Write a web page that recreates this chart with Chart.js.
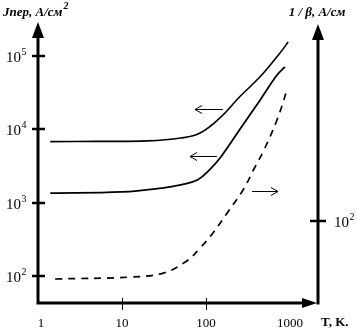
<!DOCTYPE html>
<html>
<head>
<meta charset="utf-8">
<script src="https://cdn.jsdelivr.net/npm/chart.js@4/dist/chart.umd.min.js"></script>
<style>
  html, body { margin: 0; padding: 0; background: #fff; }
  #wrap { width: 357px; height: 333px; }
</style>
</head>
<body>
<div id="wrap"><canvas id="chart" width="357" height="333"></canvas></div>
<script>
// верхняя сплошная кривая (левая ось)
const upperT = [1.4, 5, 20, 50, 85, 150, 250, 440, 760, 950];
const upperJ = [6800, 6850, 6950, 7600, 8900, 14700, 27600, 52000, 110000, 155000];

// нижняя сплошная кривая (левая ось)
const lowerT = [1.4, 10, 30, 50, 80, 110, 150, 250, 440, 700, 870];
const lowerJ = [1350, 1400, 1580, 1750, 2050, 2800, 4200, 9800, 25000, 55000, 71000];

// пунктир (правая ось 1/β)
const dashT = [1.6, 12.5, 31, 59, 85, 121, 178, 276, 383, 477, 700, 920];
const dashB = [16.2, 17.2, 19.5, 28.5, 42.8, 68.6, 128, 265, 545, 873, 2385, 6100];

// подписи осей
const xTicks = [1, 10, 100, 1000];
const xTickMarks = [10, 100];
const leftTickExp = [2, 3, 4, 5];
const rightTickExp = [2];

// стрелки-указатели: [T1, T2, значение, ось]
const pointers = [
    [159, 74, 18900, 'y'],
    [135, 64.5, 4330, 'y'],
    [353, 720, 256, 'y2']
];

function toXY(xs, ys) {
    return xs.map((x, i) => ({ x: x, y: ys[i] }));
}

function drawPower(ctx, x, y, exp, align) {
    ctx.save();
    ctx.fillStyle = '#000';
    ctx.textBaseline = 'middle';
    ctx.font = '15px "Liberation Serif"';
    const w = ctx.measureText('10').width;
    ctx.font = '10px "Liberation Serif"';
    const we = ctx.measureText(String(exp)).width;
    let x0 = align === 'right' ? x - w - we : x;
    ctx.font = '15px "Liberation Serif"';
    ctx.textAlign = 'left';
    ctx.fillText('10', x0, y + 2);
    ctx.font = '10px "Liberation Serif"';
    ctx.fillText(String(exp), x0 + w + 0.5, y - 4);
    ctx.restore();
}

function arrowHead(ctx, x, y, dir, len, half) {
    // закрашенный треугольник для осей
    ctx.beginPath();
    if (dir === 'up') {
        ctx.moveTo(x, y);
        ctx.lineTo(x - half, y + len);
        ctx.lineTo(x + half, y + len);
    } else {
        ctx.moveTo(x, y);
        ctx.lineTo(x - len, y - half);
        ctx.lineTo(x - len, y + half);
    }
    ctx.closePath();
    ctx.fill();
}

const axesPlugin = {
    id: 'axes',
    afterDraw(chart) {
        const ctx = chart.ctx;
        const a = chart.chartArea;
        const sx = chart.scales.x, sy = chart.scales.y, sy2 = chart.scales.y2;
        ctx.save();
        ctx.strokeStyle = '#000';
        ctx.fillStyle = '#000';
        ctx.lineCap = 'butt';

        // оси
        ctx.lineWidth = 3;
        ctx.beginPath();
        ctx.moveTo(a.left, a.bottom + 1.5);
        ctx.lineTo(a.left, a.top + 12);
        ctx.moveTo(a.left - 1.5, a.bottom);
        ctx.lineTo(a.right - 12, a.bottom);
        ctx.moveTo(a.right, a.bottom + 1.5);
        ctx.lineTo(a.right, a.top + 14);
        ctx.stroke();
        arrowHead(ctx, a.left, a.top, 'up', 16, 6);
        arrowHead(ctx, a.right, a.top + 2, 'up', 16, 6);
        arrowHead(ctx, a.right - 1, a.bottom, 'right', 15, 5);

        // засечки слева
        ctx.lineWidth = 2.5;
        leftTickExp.forEach(e => {
            const y = Math.round(sy.getPixelForValue(Math.pow(10, e)));
            ctx.beginPath();
            ctx.moveTo(a.left - 6, y);
            ctx.lineTo(a.left + 7, y);
            ctx.stroke();
            drawPower(ctx, a.left - 12, y, e, 'right');
        });
        // засечки справа
        rightTickExp.forEach(e => {
            const y = Math.round(sy2.getPixelForValue(Math.pow(10, e)));
            ctx.beginPath();
            ctx.moveTo(a.right - 8, y);
            ctx.lineTo(a.right + 8, y);
            ctx.stroke();
            drawPower(ctx, a.right + 16, y, e, 'left');
        });
        // засечки снизу
        ctx.lineWidth = 1;
        xTickMarks.forEach(v => {
            const x = Math.round(sx.getPixelForValue(v)) + 0.5;
            ctx.beginPath();
            ctx.moveTo(x, a.bottom - 5);
            ctx.lineTo(x, a.bottom + 7);
            ctx.stroke();
        });
        ctx.font = '13px "Liberation Serif"';
        ctx.textAlign = 'center';
        ctx.textBaseline = 'middle';
        xTicks.forEach(v => {
            const x = sx.getPixelForValue(v);
            ctx.fillText(String(v), v === 1 ? x + 3 : x, a.bottom + 21);
        });
        ctx.font = 'bold 13px "Liberation Serif"';
        ctx.textAlign = 'left';
        ctx.fillText('T, K.', a.right + 3, a.bottom + 20);

        // заголовки осей
        ctx.font = 'bold italic 13px "Liberation Serif"';
        ctx.textBaseline = 'alphabetic';
        ctx.fillText('Jпер, А/см', 3, 16);
        const tw = ctx.measureText('Jпер, А/см').width;
        ctx.font = 'bold italic 10px "Liberation Serif"';
        ctx.fillText('2', 3 + tw + 1, 9);
        ctx.font = 'bold italic 13px "Liberation Serif"';
        ctx.textAlign = 'center';
        ctx.fillText('1 / β, А/см', a.right - 1, 16);

        // стрелки-указатели
        ctx.lineWidth = 1;
        pointers.forEach(p => {
            const ys = chart.scales[p[3]];
            const x1 = sx.getPixelForValue(p[0]);
            const x2 = sx.getPixelForValue(p[1]);
            const y = Math.round(ys.getPixelForValue(p[2])) + 0.5;
            const d = x2 > x1 ? -1 : 1;
            ctx.beginPath();
            ctx.moveTo(x1, y);
            ctx.lineTo(x2, y);
            ctx.moveTo(x2 + d * 7, y - 4);
            ctx.lineTo(x2, y);
            ctx.lineTo(x2 + d * 7, y + 4);
            ctx.stroke();
        });
        ctx.restore();
    }
};

const common = {
    borderColor: '#000',
    pointRadius: 0,
    fill: false,
    tension: 0.4
};

new Chart(document.getElementById('chart'), {
    type: 'line',
    data: {
        datasets: [
            Object.assign({ data: toXY(upperT, upperJ), borderWidth: 1.6, yAxisID: 'y' }, common),
            Object.assign({ data: toXY(lowerT, lowerJ), borderWidth: 1.8, yAxisID: 'y' }, common),
            Object.assign({ data: toXY(dashT, dashB), borderWidth: 1.7, borderDash: [7, 6], yAxisID: 'y2' }, common)
        ]
    },
    options: {
        responsive: false,
        animation: false,
        layout: { padding: { left: 38, right: 39, top: 22, bottom: 30 } },
        plugins: { legend: { display: false }, tooltip: { enabled: false } },
        scales: {
            x: { type: 'logarithmic', display: false, min: 1, max: 2154 },
            y: { type: 'logarithmic', display: false, min: 42.8, max: 290900 },
            y2: { type: 'logarithmic', display: false, position: 'right', min: 7.62, max: 51720 }
        }
    },
    plugins: [axesPlugin]
});
</script>
</body>
</html>
